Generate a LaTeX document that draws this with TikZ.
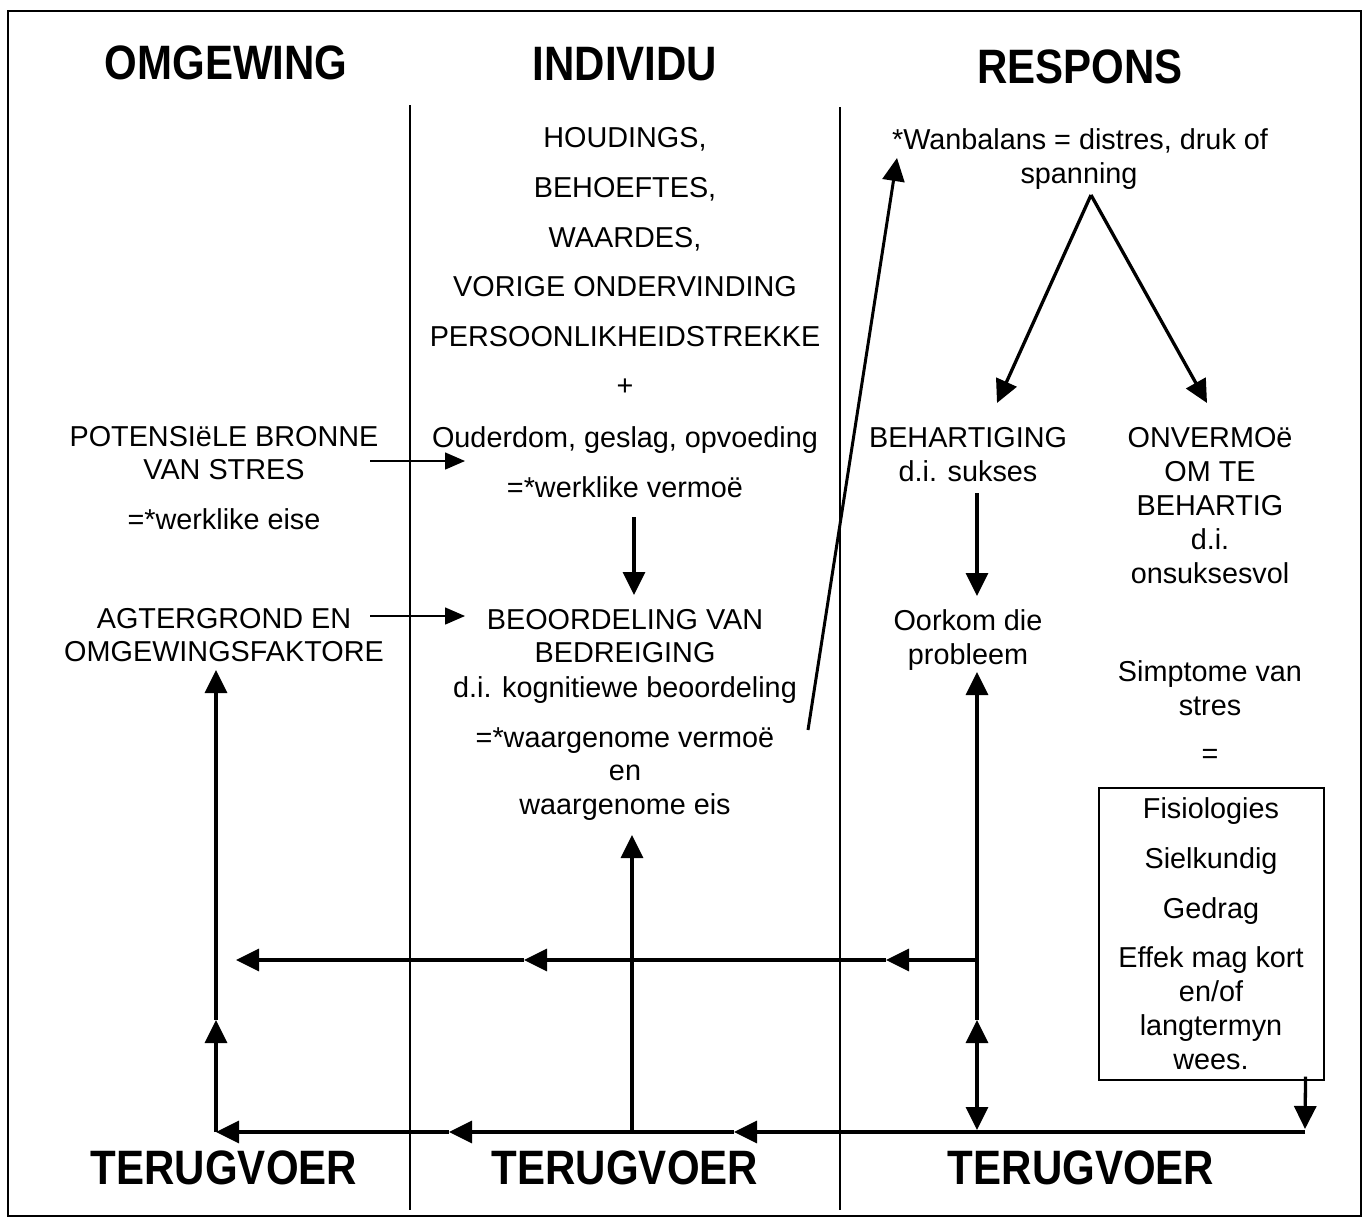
\documentclass[tikz,border=0pt]{standalone}
\usepackage{fontspec}
\setmainfont{Liberation Sans}
\usetikzlibrary{arrows.meta,calc}
\begin{document}
\begin{tikzpicture}[x=1bp,y=-1bp,
  >={Triangle[length=23bp,width=22bp]},
  txt/.style={font=\fontsize{28.8bp}{34bp}\selectfont, inner sep=0pt, anchor=base},
  head/.style={font=\fontsize{42bp}{48bp}\selectfont\bfseries, inner sep=0pt, anchor=base},
  flow/.style={line width=3.3bp, ->},
  thinarrow/.style={line width=1.5bp, -{Triangle[length=20bp,width=17bp]}},
  divider/.style={line width=1.1bp},
]
\useasboundingbox (0,0) rectangle (1367,1221);
\fill[white] (0,0) rectangle (1367,1221);

% frame and column dividers
\draw[line width=1.8bp] (8,11) rectangle (1361,1216);
\draw[divider] (410,105) -- (410,1210);
\draw[divider] (840,107) -- (840,1210);

% column headings
\node[head] (hOmg) at (226,79) {\scalebox{1}[1.15]{OMGEWING}};
\node[head] (hInd) at (625,80) {\scalebox{1}[1.15]{INDIVIDU}};
\node[head] (hRes) at (1080,83) {\scalebox{1}[1.15]{RESPONS}};
\node[head] (tOmg) at (224,1184) {\scalebox{1}[1.15]{TERUGVOER}};
\node[head] (tInd) at (625,1184) {\scalebox{1}[1.15]{TERUGVOER}};
\node[head] (tRes) at (1081,1184) {\scalebox{1}[1.15]{TERUGVOER}};

% OMGEWING column
\node[txt] (pot1) at (224,446) {POTENSIëLE BRONNE};
\node[txt] (pot2) at (224,479) {VAN STRES};
\node[txt] (eise) at (224,529) {=*werklike eise};
\node[txt] (agt1) at (224,628) {AGTERGROND EN};
\node[txt] (agt2) at (224,661) {OMGEWINGSFAKTORE};

% INDIVIDU column
\node[txt] (ind1) at (625,147) {HOUDINGS,};
\node[txt] (ind2) at (625,197) {BEHOEFTES,};
\node[txt] (ind3) at (625,247) {WAARDES,};
\node[txt] (ind4) at (625,296) {VORIGE ONDERVINDING};
\node[txt] (ind5) at (625,346) {PERSOONLIKHEIDSTREKKE};
\node[txt] (plus) at (625,395) {+};
\node[txt] (oud)  at (625,447) {Ouderdom, geslag, opvoeding};
\node[txt] (verm) at (625,497) {=*werklike vermoë};
\node[txt] (beo1) at (625,629) {BEOORDELING VAN};
\node[txt] (beo2) at (625,662) {BEDREIGING};
\node[txt] (beo3) at (625,697) {d.i. kognitiewe beoordeling};
\node[txt] (waar1) at (625,747) {=*waargenome vermoë};
\node[txt] (waar2) at (625,780) {en};
\node[txt] (waar3) at (625,814) {waargenome eis};

% RESPONS column
\node[txt] (wan1) at (1080,149) {*Wanbalans = distres, druk of};
\node[txt] (wan2) at (1079,183) {spanning};
\node[txt] (beh1) at (968,447) {BEHARTIGING};
\node[txt] (beh2) at (968,481) {d.i. sukses};
\node[txt] (onv1) at (1210,447) {ONVERMOë};
\node[txt] (onv2) at (1210,481) {OM TE};
\node[txt] (onv3) at (1210,515) {BEHARTIG};
\node[txt] (onv4) at (1210,549) {d.i.};
\node[txt] (onv5) at (1210,583) {onsuksesvol};
\node[txt] (oor1) at (968,630) {Oorkom die};
\node[txt] (oor2) at (968,664) {probleem};
\node[txt] (sim1) at (1210,681) {Simptome van};
\node[txt] (sim2) at (1210,715) {stres};
\node[txt] (sim3) at (1210,763) {=};

% symptom box
\node[draw, line width=1.1bp, minimum width=225bp, minimum height=292bp, inner sep=0pt]
  (box) at (1211.5,934) {};
\node[txt] (box1) at (1211,818) {Fisiologies};
\node[txt] (box2) at (1211,868) {Sielkundig};
\node[txt] (box3) at (1211,918) {Gedrag};
\node[txt] (box4) at (1211,967) {Effek mag kort};
\node[txt] (box5) at (1211,1001) {en/of};
\node[txt] (box6) at (1211,1035) {langtermyn};
\node[txt] (box7) at (1211,1069) {wees.};

% connector end points
\coordinate (potS) at (370,461);  \coordinate (potE) at (465,461);
\coordinate (agtS) at (370,616);  \coordinate (agtE) at (465,616);
\coordinate (vermS) at (634,517); \coordinate (vermE) at (634,595);
\coordinate (diagS) at (808,730); \coordinate (diagE) at (897,158);
\coordinate (apex) at (1091,195);
\coordinate (behT) at (997,403);  \coordinate (onvT) at (1207,403);
\coordinate (behS) at (977,493);  \coordinate (behE) at (977,596);

\coordinate (rTop) at (977,672);  \coordinate (rMid) at (977,1020);
\coordinate (rBot) at (977,1130);

\coordinate (h0) at (977,960);  \coordinate (h1) at (886,960);
\coordinate (h2) at (524,960);  \coordinate (h3) at (236,960);

\coordinate (bx) at ($(box.south east)+(-19,-4)$);
\coordinate (bxE) at (1305,1129);
\coordinate (b0) at (1305,1132); \coordinate (b1) at (734,1132);
\coordinate (b2) at (449,1132);  \coordinate (b3) at (216,1132);
\coordinate (lMid) at (216,1020); \coordinate (lTop) at (216,670);
\coordinate (mBot) at (632,1132); \coordinate (mTop) at (632,835);

% inputs into the individual
\draw[thinarrow] (potS) -- (potE);
\draw[thinarrow] (agtS) -- (agtE);
\draw[flow] (vermS) -- (vermE);
\draw[line width=3bp, ->] (diagS) -- (diagE);

% response branches
\draw[flow] (apex) -- (behT);
\draw[flow] (apex) -- (onvT);
\draw[flow] (behS) -- (behE);

% feedback loops
\draw[flow] (rMid) -- (rTop);
\draw[line width=3.3bp, <->] (rBot) -- (rMid);
\draw[flow] (h0) -- (h1);
\draw[flow] (h1) -- (h2);
\draw[flow] (h2) -- (h3);

\draw[flow] (bx) -- (bxE);
\draw[flow] (b0) -- (b1);
\draw[flow] (b1) -- (b2);
\draw[flow] (b2) -- (b3);
\draw[flow] (b3) -- (lMid);
\draw[flow] (lMid) -- (lTop);
\draw[flow] (mBot) -- (mTop);
\end{tikzpicture}
\end{document}
